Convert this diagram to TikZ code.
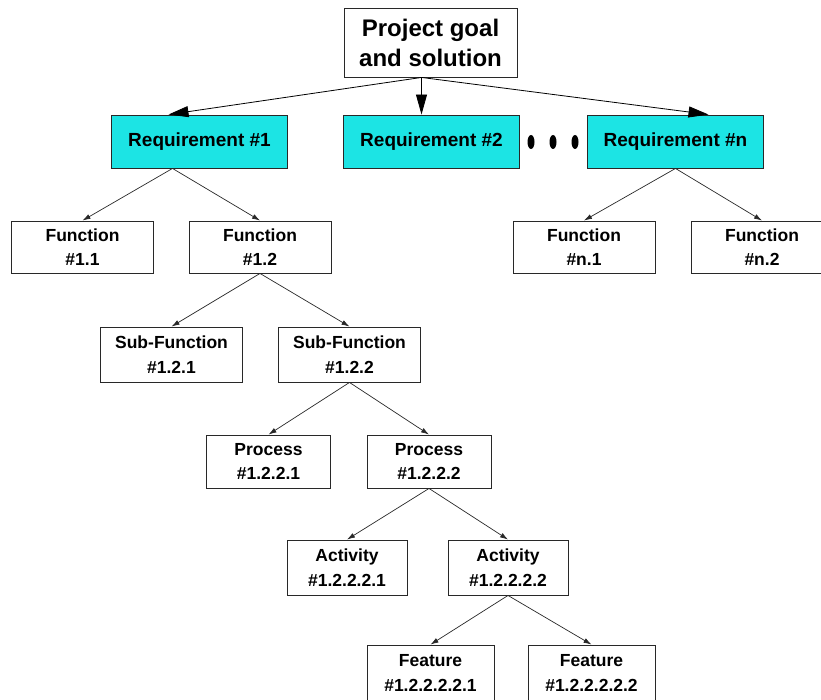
\documentclass[tikz,border=0pt]{standalone}
\usepackage{fontspec}
\setmainfont{Liberation Sans}
\usetikzlibrary{arrows.meta,calc}
\definecolor{reqcyan}{RGB}{28,228,228}
\definecolor{edge}{RGB}{40,40,40}

\begin{document}
\begin{tikzpicture}[x=1pt,y=-1pt,
   wbs/.style={draw=edge, line width=0.9pt, fill=white, align=center, inner sep=0pt,
      font=\fontsize{17.5}{24.5}\selectfont\bfseries},
   goalbox/.style={wbs, minimum width=173, minimum height=69,
      font=\fontsize{24}{30}\selectfont\bfseries},
   req/.style={wbs, fill=reqcyan, minimum width=176, minimum height=53,
      font=\fontsize{19}{23}\selectfont\bfseries},
   fn/.style={wbs, minimum width=142, minimum height=52},
   subfn/.style={wbs, minimum width=142, minimum height=55},
   proc/.style={wbs, minimum width=124, minimum height=53},
   act/.style={wbs, minimum width=120, minimum height=55},
   feat/.style={wbs, minimum width=127, minimum height=56},
   big/.style={-{Triangle[length=20pt,width=11pt]}, line width=0.8pt, black},
   link/.style={-{Latex[length=8pt,width=5pt]}, line width=0.7pt, edge}]
   \useasboundingbox (0,0) rectangle (821,700);
   \clip (0,0) rectangle (821,700);

   % goal and requirements
   \node[goalbox] (goal) at (430.5,42.5) {Project goal\\and solution};
   \node[req] (req1) at (199.5,141.5) {Requirement \#1};
   \node[req] (req2) at (431.5,141.5) {Requirement \#2};
   \node[req] (reqn) at (675.5,141.5) {Requirement \#n};
   \foreach \x in {531,553,575}
      \fill (\x,142) ellipse [x radius=3.5pt, y radius=7pt];

   % functions
   \node[fn] (f11) at (82.5,247) {Function\\\#1.1};
   \node[fn] (f12) at (260,247) {Function\\\#1.2};
   \node[fn] (fn1) at (584,247) {Function\\\#n.1};
   \node[fn] (fn2) at (762,247) {Function\\\#n.2};

   % breakdown of #1.2
   \node[subfn] (s121) at (171.5,354.5) {Sub-Function\\\#1.2.1};
   \node[subfn] (s122) at (349.5,354.5) {Sub-Function\\\#1.2.2};
   \node[proc] (p1) at (268.5,461.5) {Process\\\#1.2.2.1};
   \node[proc] (p2) at (429,461.5) {Process\\\#1.2.2.2};
   \node[act] (a1) at (347,567.5) {Activity\\\#1.2.2.2.1};
   \node[act] (a2) at (508,567.5) {Activity\\\#1.2.2.2.2};
   \node[feat] (ft1) at (430.5,673) {Feature\\\#1.2.2.2.2.1};
   \node[feat] (ft2) at (591.5,673) {Feature\\\#1.2.2.2.2.2};

   % connectors
   \coordinate (goalfoot) at ($(goal.south)+(-9,0)$);
   \coordinate (req1foot) at ($(req1.south)+(-27,0)$);
   \draw[big] (goalfoot) -- ($(req1.north)+(-31,0)$);
   \draw[big] (goalfoot) -- ($(req2.north)+(-10,0)$);
   \draw[big] (goalfoot) -- ($(reqn.north)+(33,0)$);
   \foreach \p/\c in {req1foot/f11, req1foot/f12, reqn.south/fn1, reqn.south/fn2,
         f12.south/s121, f12.south/s122, s122.south/p1, s122.south/p2,
         p2.south/a1, p2.south/a2, a2.south/ft1, a2.south/ft2}
      \draw[link] (\p) -- (\c.north);
\end{tikzpicture}
\end{document}
